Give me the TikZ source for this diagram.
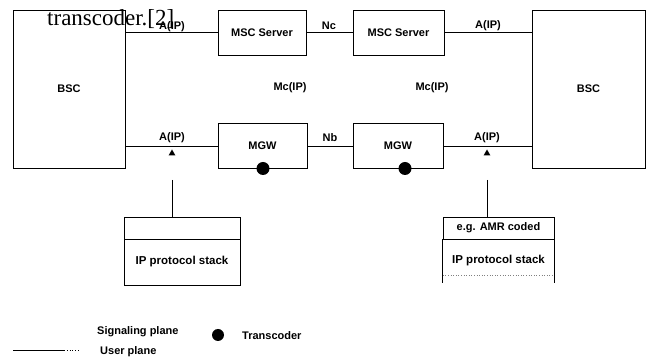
\documentclass[tikz,border=0pt]{standalone}
\usepackage{fontspec}
\setmainfont{Liberation Sans}
\newfontfamily\serifovl{Liberation Serif}
\usetikzlibrary{shapes.geometric}
\begin{document}
\begin{tikzpicture}[x=1pt,y=-1pt,
  every node/.style={font=\bfseries\fontsize{11}{13}\selectfont, inner sep=0pt},
  box/.style={draw, line width=0.9pt, rectangle},
  conn/.style={line width=0.9pt},
  lbl/.style={font=\bfseries\fontsize{11}{13}\selectfont},
  tcdot/.style={circle, fill=black, minimum size=13pt},
  tri/.style={regular polygon, regular polygon sides=3, fill=black, minimum size=8pt, inner sep=0pt}]
\useasboundingbox (0,0) rectangle (649,363);
% main boxes
\node[box, minimum width=112pt, minimum height=158pt] (bscL) at (69,89) {BSC};
\node[box, minimum width=113pt, minimum height=158pt] (bscR) at (588.5,89) {BSC};
\node[box, minimum width=88pt, minimum height=45pt] (msc1) at (262,32.5) {MSC Server};
\node[box, minimum width=91pt, minimum height=45pt] (msc2) at (398.5,32.5) {MSC Server};
\node[box, minimum width=89pt, minimum height=45pt] (mgw1) at (262.5,146) {MGW};
\node[box, minimum width=90pt, minimum height=45pt] (mgw2) at (398,146) {MGW};
% signalling connectors
\draw[conn] (bscL.east |- msc1.west) -- (msc1.west);
\draw[conn] (msc1.east) -- (msc2.west);
\draw[conn] (msc2.east) -- (bscR.west |- msc2.east);
% user plane connectors
\draw[conn] (bscL.east |- mgw1.west) -- (mgw1.west);
\draw[conn] (mgw1.east) -- (mgw2.west);
\draw[conn] (mgw2.east) -- (bscR.west |- mgw2.east);
% labels
\node[lbl] (l1) at (172,27) {A(IP)};
\node[lbl] (l2) at (329,26) {Nc};
\node[lbl] (l3) at (488,26) {A(IP)};
\node[lbl] (l4) at (290,88) {Mc(IP)};
\node[lbl] (l5) at (432,88) {Mc(IP)};
\node[lbl] (l6) at (172,138) {A(IP)};
\node[lbl] (l7) at (330,138) {Nb};
\node[lbl] (l8) at (487,138) {A(IP)};
% transcoders
\node[tcdot] (tc1) at (263,168.5) {};
\node[tcdot] (tc2) at (405,168.5) {};
% tap triangles
\node[tri] (triL) at (172,153.5) {};
\node[tri] (triR) at (487,153.5) {};
% protocol stacks
\node[box, minimum width=116pt, minimum height=22pt] (stackLtop) at (182,228) {};
\node[box, minimum width=116pt, minimum height=46pt, font=\bfseries\fontsize{11.5}{14}\selectfont] (stackLbot) at (182,262) {IP protocol stack};
\node[box, minimum width=111pt, minimum height=22pt, font=\bfseries\fontsize{11}{14}\selectfont] (stackRtop) at (498.5,228) {e.g. AMR coded};
\node[minimum width=111pt, minimum height=44pt, font=\bfseries\fontsize{11.5}{14}\selectfont] (stackRbot) at (498.5,261) {IP protocol stack};
\draw[conn] (stackRbot.north west) -- (stackRbot.south west);
\draw[conn] (stackRbot.north east) -- (stackRbot.south east);
\draw[dotted, gray, line width=0.6pt] ([yshift=8pt]stackRbot.south west) -- ([yshift=8pt]stackRbot.south east);
\coordinate (tapL) at (172,180);
\coordinate (tapR) at (487,180);
\draw[conn] (tapL) -- (tapL |- stackLtop.north);
\draw[conn] (tapR) -- (tapR |- stackRtop.north);
% overlay text
\node[font=\serifovl\fontsize{23}{26}\selectfont, anchor=base west] (ovl) at (47,26) {transcoder.[2]};
% legend
\node[lbl, anchor=west] (legS) at (97,332) {Signaling plane};
\node[tcdot, minimum size=12pt] (legD) at (218,335) {};
\node[lbl, anchor=west] (legT) at (242,336) {Transcoder};
\coordinate (legA) at (13,350);
\coordinate (legB) at (64,350);
\coordinate (legC) at (80,350);
\draw[conn] (legA) -- (legB);
\draw[dotted, line width=0.8pt] (legB) -- (legC);
\node[lbl, anchor=west] (legU) at (100,352) {User plane};
\end{tikzpicture}
\end{document}
